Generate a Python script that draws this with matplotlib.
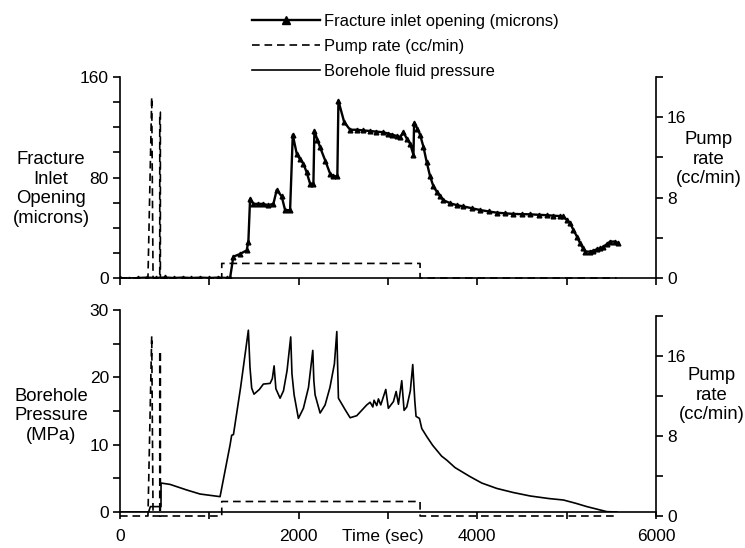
import matplotlib
matplotlib.use("Agg")
import matplotlib.pyplot as plt
from matplotlib.ticker import MultipleLocator

# fracture inlet opening (microns), top panel
time_open = [0, 100, 200, 300, 400, 500, 600, 700, 800, 900, 1000, 1100, 1200, 1232,
             1269, 1340, 1418, 1437, 1456, 1493, 1550, 1600, 1660, 1717, 1754, 1810,
             1848, 1904, 1934, 1978, 2010, 2053, 2090, 2128, 2165, 2176, 2210, 2240,
             2300, 2352, 2389, 2433, 2445, 2510, 2576, 2650, 2720, 2800, 2870, 2949,
             3000, 3050, 3100, 3135, 3173, 3210, 3247, 3285, 3292, 3330, 3359, 3396,
             3434, 3471, 3508, 3546, 3583, 3620, 3695, 3770, 3844, 3940, 4031, 4125,
             4218, 4310, 4404, 4500, 4591, 4685, 4778, 4850, 4927, 4964, 5002, 5039,
             5076, 5115, 5151, 5180, 5207, 5263, 5300, 5340, 5375, 5412, 5450, 5487,
             5543, 5580]
opening = [0, -0.5, 0, 0.3, 0, 0.4, 0, 0.3, 0, 0.3, 0, 0.3, 0, 0,
           17, 19, 22, 29, 63, 59, 59, 59, 58, 59, 70, 65,
           54, 54, 114, 99, 95, 91, 84, 75, 75, 117, 110, 104,
           93, 83, 81, 81, 141, 124, 118, 118, 117.5, 117, 116.5, 116,
           115, 114, 113, 112, 116, 111, 107, 98, 123, 119, 114, 104.6,
           92, 81, 73, 68.7, 65, 62, 59.5, 58, 57, 55.5, 54.1, 53,
           52, 51.5, 51, 50.8, 50.7, 50.3, 50, 49.6, 49.3, 49, 46.2, 43.5,
           38.2, 33, 27.6, 24, 21, 21, 21.7, 23, 23.6, 24.9, 27, 29,
           29, 27.6]

# borehole fluid pressure (MPa), bottom panel
time_press = [0, 320, 340, 440, 459, 459.5, 560, 747, 896, 1120, 1232, 1250, 1270,
              1350, 1437, 1455, 1474, 1500, 1560, 1605, 1680, 1705, 1725, 1745, 1792,
              1830, 1870, 1911, 1925, 1949, 1997, 2053, 2110, 2158, 2170, 2184, 2240,
              2296, 2350, 2400, 2427, 2445, 2520, 2576, 2650, 2762, 2800, 2830, 2844,
              2874, 2893, 2919, 2975, 3004, 3061, 3091, 3117, 3154, 3180, 3210, 3250,
              3277, 3300, 3314, 3352, 3378, 3434, 3500, 3600, 3658, 3750, 3850, 3919,
              4050, 4218, 4400, 4591, 4800, 4964, 5100, 5226, 5450, 5562]
pressure = [0, 0, 0.8, 0.8, 0.8, 4.3, 4.1, 3.27, 2.67, 2.28, 9.95, 11.4, 11.5,
            18.5, 27.0, 21.5, 18.4, 17.5, 18.2, 19.0, 19.1, 19.8, 21.7, 18.3, 16.9,
            18.0, 21.0, 26.0, 20.5, 17.4, 13.9, 15.4, 18.5, 24.0, 19.5, 17.4, 14.7,
            15.9, 18.5, 22.0, 26.8, 16.9, 15.2, 14.0, 14.3, 15.9, 16.3, 15.6, 16.6,
            15.8, 16.8, 15.9, 18.2, 15.4, 16.4, 17.9, 16.0, 19.5, 15.1, 15.6, 18.0,
            21.9, 16.5, 14.2, 13.9, 12.4, 11.2, 9.9, 8.3, 7.7, 6.6, 5.8, 5.25,
            4.3, 3.5, 2.9, 2.38, 2.0, 1.78, 1.3, 0.8, 0.05, 0]

# pump rate (cc/min), both panels
time_pump = [0, 313, 355, 370, 445, 445, 452, 452, 1139, 1139, 3359, 3359, 5560]
pump = [0, 0, 18.0, 0, 0, 16.5, 16.5, 0, 0, 1.45, 1.45, 0, 0]

plt.rcParams["font.family"] = ["Liberation Sans", "DejaVu Sans"]
plt.rcParams["font.size"] = 12.5
plt.rcParams["lines.scale_dashes"] = False

W, H = 745, 548
fig = plt.figure(figsize=(W / 100, H / 100), dpi=100)


def fx(px):
    return px / W


def fy(py):
    return 1 - py / H


left, width = fx(120), fx(656) - fx(120)
ax1 = fig.add_axes([left, fy(278), width, fy(77) - fy(278)])
ax2 = fig.add_axes([left, fy(512), width, fy(310) - fy(512)], sharex=ax1)
ax1r = ax1.twinx()
ax2r = fig.add_axes([left, fy(516), width, fy(316) - fy(516)], sharex=ax2)
ax2r.patch.set_visible(False)

dash = (0, (5.5, 3.5))
lw = 1.2

# opening drawn above the pump line so its thick baseline hides the zero dashes
ax1.set_zorder(ax1r.get_zorder() + 1)
ax1.patch.set_visible(False)

l_open, = ax1.plot(time_open, opening, color="black", lw=1.7, marker="^", ms=3.4)
l_pump, = ax1r.plot(time_pump, pump, color="black", lw=lw, ls=dash, clip_on=False)
ax2r.plot(time_pump, pump, color="black", lw=lw, ls=dash, clip_on=False)
l_press, = ax2.plot(time_press, pressure, color="black", lw=lw)

ax1.set_xlim(0, 6000)
ax1.set_ylim(0, 160)
ax2.set_ylim(0, 30)
ax1r.set_ylim(0, 20)
ax2r.set_ylim(0, 20)

for ax in (ax1, ax2):
    ax.spines[["top", "right"]].set_visible(False)
for ax in (ax1r, ax2r):
    ax.spines[["top", "left", "bottom"]].set_visible(False)
    ax.yaxis.tick_right()
    ax.xaxis.set_visible(False)
    ax.yaxis.set_major_locator(MultipleLocator(8))
    ax.yaxis.set_minor_locator(MultipleLocator(4))

ax1.yaxis.set_major_locator(MultipleLocator(80))
ax1.yaxis.set_minor_locator(MultipleLocator(20))
ax2.yaxis.set_major_locator(MultipleLocator(10))
ax2.yaxis.set_minor_locator(MultipleLocator(5))
ax2.xaxis.set_major_locator(MultipleLocator(2000))
ax2.xaxis.set_minor_locator(MultipleLocator(1000))

for ax in (ax1, ax2, ax1r, ax2r):
    for sp in ax.spines.values():
        sp.set_linewidth(1.2)
    ax.tick_params(which="both", direction="out", length=5, width=1.2, pad=3)
ax1.tick_params(axis="x", labelbottom=False)
ax2.tick_params(axis="x", pad=7)

ax2.set_xlabel("Time (sec)")
ax2.xaxis.set_label_coords(0.49, -0.085)

lab = dict(ha="center", va="center", linespacing=1.2, fontsize=13.3)
fig.text(fx(51), fy(189), "Fracture\nInlet\nOpening\n(microns)", **lab)
fig.text(fx(709), fy(159), "Pump\nrate\n(cc/min)", **lab)
fig.text(fx(51), fy(416), "Borehole\nPressure\n(MPa)", **lab)
fig.text(fx(712), fy(395), "Pump\nrate\n(cc/min)", **lab)

fig.legend(
    handles=[l_open, l_pump, l_press],
    labels=["Fracture inlet opening (microns)", "Pump rate (cc/min)",
            "Borehole fluid pressure"],
    loc="upper left",
    bbox_to_anchor=(fx(252), fy(14)),
    frameon=False,
    fontsize=11.9,
    borderpad=0,
    borderaxespad=0,
    handlelength=4.1,
    handletextpad=0.25,
    labelspacing=0.6,
    markerscale=1.5,
)

fig.savefig("out.png", dpi=100)
